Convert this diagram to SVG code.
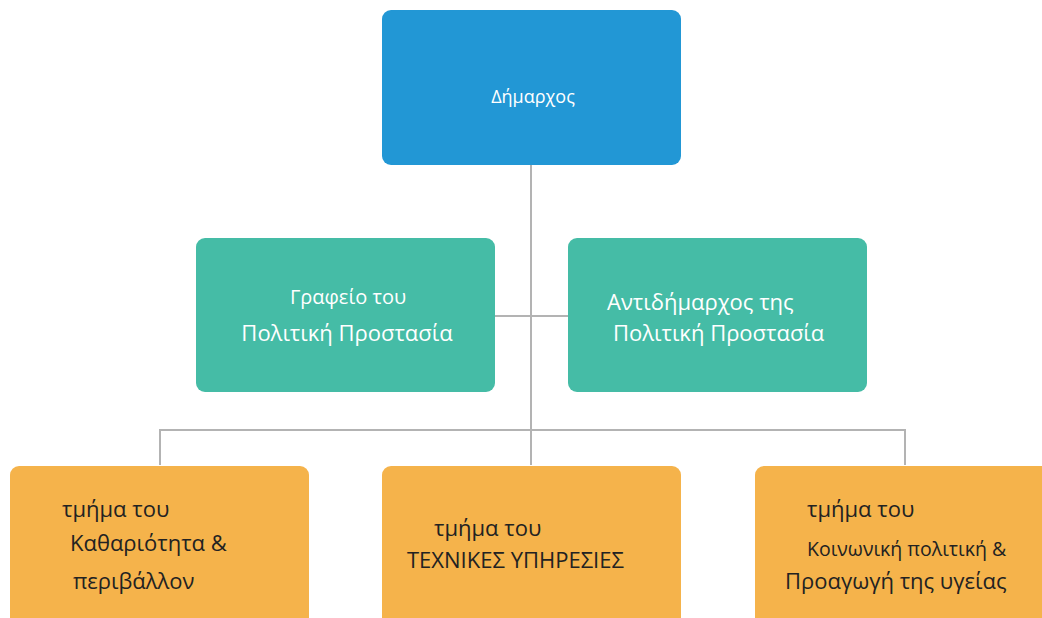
<svg xmlns="http://www.w3.org/2000/svg" width="1042" height="618" viewBox="0 0 1042 618">
<style>
.blue{fill:#2297D5}
.green{fill:#45BCA6}
.orange{fill:#F5B34B}
.w{fill:#ffffff;font-family:"Open Sans","Noto Sans",sans-serif}
.d{fill:#222222;font-family:"Open Sans","Noto Sans",sans-serif}
.c{stroke:#b3b3b3;stroke-width:2;fill:none}
</style>
<rect width="1042" height="618" fill="#ffffff"/>
<g id="connectors">
<path class="c" d="M531 165V465M495 316H568M160 465V430H905V465"/>
</g>
<g id="n-dimarchos">
<rect class="blue" x="382" y="10" width="299" height="155" rx="9"/>
<text class="w" x="533" y="103" font-size="18" text-anchor="middle">Δήμαρχος</text>
</g>
<g id="n-grafeio">
<rect class="green" x="196" y="238" width="299" height="154" rx="9"/>
<text class="w" x="348" y="304" font-size="20" text-anchor="middle">Γραφείο του</text>
<text class="w" x="347" y="341" font-size="22" text-anchor="middle">Πολιτική Προστασία</text>
</g>
<g id="n-antidimarchos">
<rect class="green" x="568" y="238" width="299" height="154" rx="9"/>
<text class="w" x="607" y="310" font-size="22">Αντιδήμαρχος της</text>
<text class="w" x="613" y="341" font-size="22">Πολιτική Προστασία</text>
</g>
<g id="n-katharioteta">
<rect class="orange" x="10" y="466" width="299" height="170" rx="9"/>
<text class="d" x="62" y="517" font-size="22">τμήμα του</text>
<text class="d" x="70" y="551" font-size="22">Καθαριότητα &amp;</text>
<text class="d" x="73" y="589" font-size="22">περιβάλλον</text>
</g>
<g id="n-technikes">
<rect class="orange" x="382" y="466" width="299" height="170" rx="9"/>
<text class="d" x="434" y="536" font-size="22">τμήμα του</text>
<text class="d" x="407" y="568" font-size="22">ΤΕΧΝΙΚΕΣ ΥΠΗΡΕΣΙΕΣ</text>
</g>
<g id="n-koinoniki">
<rect class="orange" x="755" y="466" width="299" height="170" rx="9"/>
<text class="d" x="807" y="517" font-size="22">τμήμα του</text>
<text class="d" x="807" y="556" font-size="19.5">Κοινωνική πολιτική &amp;</text>
<text class="d" x="785" y="589" font-size="22">Προαγωγή της υγείας</text>
</g>
</svg>
